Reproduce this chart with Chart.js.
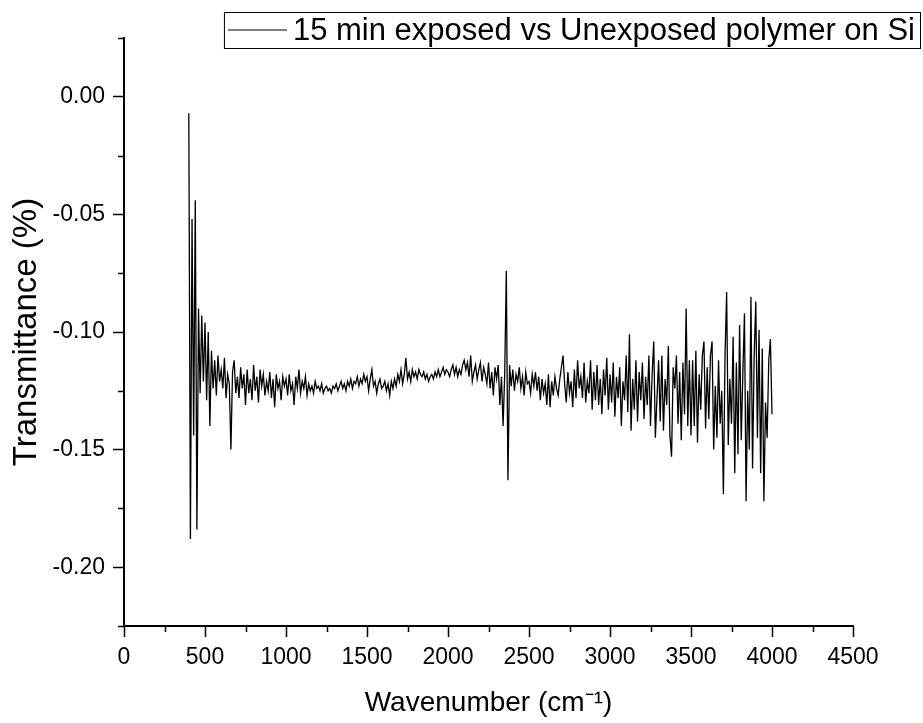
<!DOCTYPE html>
<html>
<head>
<meta charset="utf-8">
<script src="https://cdn.jsdelivr.net/npm/chart.js@4.4.1/dist/chart.umd.min.js"></script>
<style>
  body { margin: 0; background: #fff; }
  canvas { display: block; }
</style>
</head>
<body>
<canvas id="ftirChart" width="923" height="723"></canvas>
<script>
// spectrum sampled every 10 cm-1 from 400 to 4000
const waveStart = 400;
const waveStep = 10;
const seriesLabel = '15 min exposed vs Unexposed polymer on Si';

const transmittance = [
    // 400 - 490
    -0.007, -0.188, -0.052, -0.144, -0.044, -0.184, -0.090, -0.126, -0.093, -0.121,
    // 500
    -0.096, -0.129, -0.100, -0.140, -0.108, -0.124, -0.112, -0.127, -0.110, -0.121,
    // 600
    -0.116, -0.124, -0.111, -0.128, -0.118, -0.122, -0.150, -0.117, -0.112, -0.126,
    // 700
    -0.119, -0.128, -0.115, -0.124, -0.118, -0.131, -0.116, -0.126, -0.120, -0.129,
    // 800
    -0.114, -0.125, -0.119, -0.130, -0.116, -0.123, -0.118, -0.127, -0.121, -0.125,
    // 900
    -0.117, -0.128, -0.120, -0.132, -0.118, -0.124, -0.121, -0.129, -0.119, -0.123,
    // 1000
    -0.120, -0.127, -0.118, -0.125, -0.122, -0.131, -0.119, -0.124, -0.116, -0.126,
    // 1100
    -0.121, -0.124, -0.119, -0.127, -0.122, -0.125, -0.123, -0.126, -0.121, -0.124,
    // 1200
    -0.123, -0.125, -0.122, -0.126, -0.124, -0.123, -0.125, -0.124, -0.126, -0.123,
    // 1300
    -0.124, -0.122, -0.125, -0.123, -0.121, -0.124, -0.122, -0.125, -0.121, -0.123,
    // 1400
    -0.120, -0.124, -0.121, -0.122, -0.119, -0.123, -0.120, -0.122, -0.118, -0.121,
    // 1500
    -0.119, -0.125, -0.120, -0.116, -0.123, -0.121, -0.126, -0.122, -0.120, -0.124,
    // 1600
    -0.123, -0.121, -0.125, -0.122, -0.127, -0.121, -0.124, -0.120, -0.123, -0.118,
    // 1700
    -0.121, -0.116, -0.122, -0.118, -0.111, -0.120, -0.117, -0.121, -0.116, -0.119,
    // 1800
    -0.117, -0.120, -0.116, -0.118, -0.119, -0.117, -0.120, -0.118, -0.121, -0.119,
    // 1900
    -0.118, -0.120, -0.117, -0.119, -0.116, -0.119, -0.117, -0.115, -0.118, -0.116,
    // 2000
    -0.117, -0.119, -0.116, -0.114, -0.118, -0.115, -0.119, -0.116, -0.118, -0.114,
    // 2100
    -0.112, -0.116, -0.113, -0.119, -0.110, -0.121, -0.117, -0.114, -0.120, -0.116,
    // 2200
    -0.113, -0.121, -0.115, -0.118, -0.122, -0.113, -0.124, -0.117, -0.127, -0.115,
    // 2300
    -0.120, -0.114, -0.131, -0.119, -0.140, -0.118, -0.074, -0.163, -0.114, -0.123,
    // 2400
    -0.116, -0.125, -0.118, -0.121, -0.115, -0.124, -0.119, -0.127, -0.117, -0.122,
    // 2500
    -0.121, -0.126, -0.118, -0.123, -0.117, -0.125, -0.119, -0.129, -0.120, -0.126,
    // 2600
    -0.122, -0.131, -0.118, -0.132, -0.121, -0.127, -0.119, -0.124, -0.127, -0.120,
    // 2700
    -0.115, -0.110, -0.122, -0.130, -0.117, -0.126, -0.121, -0.132, -0.116, -0.128,
    // 2800
    -0.112, -0.124, -0.119, -0.128, -0.113, -0.130, -0.121, -0.126, -0.112, -0.133,
    // 2900
    -0.117, -0.129, -0.114, -0.131, -0.120, -0.135, -0.116, -0.127, -0.111, -0.133,
    // 3000
    -0.118, -0.130, -0.113, -0.136, -0.119, -0.128, -0.115, -0.140, -0.121, -0.129,
    // 3100
    -0.110, -0.134, -0.101, -0.142, -0.120, -0.133, -0.112, -0.138, -0.117, -0.129,
    // 3200
    -0.113, -0.137, -0.119, -0.131, -0.110, -0.140, -0.118, -0.104, -0.145, -0.128,
    // 3300
    -0.112, -0.138, -0.110, -0.142, -0.120, -0.131, -0.106, -0.144, -0.153, -0.115,
    // 3400
    -0.124, -0.110, -0.139, -0.117, -0.146, -0.113, -0.135, -0.090, -0.140, -0.112,
    // 3500
    -0.144, -0.112, -0.140, -0.108, -0.147, -0.118, -0.133, -0.110, -0.104, -0.141,
    // 3600
    -0.115, -0.137, -0.110, -0.104, -0.150, -0.123, -0.145, -0.112, -0.139, -0.125,
    // 3700
    -0.169, -0.110, -0.083, -0.148, -0.120, -0.139, -0.102, -0.160, -0.113, -0.152,
    // 3800
    -0.097, -0.146, -0.118, -0.092, -0.172, -0.125, -0.150, -0.085, -0.158, -0.110,
    // 3900
    -0.087, -0.145, -0.099, -0.160, -0.107, -0.172, -0.130, -0.145, -0.112, -0.103,
    // 4000
    -0.135
];

const xMajorTicks = [0, 500, 1000, 1500, 2000, 2500, 3000, 3500, 4000, 4500];
const xMinorTicks = [250, 750, 1250, 1750, 2250, 2750, 3250, 3750, 4250];
const yMajorTicks = [-0.20, -0.15, -0.10, -0.05, 0.00];
const yMinorTicks = [-0.225, -0.175, -0.125, -0.075, -0.025, 0.025];

const spectrumPoints = transmittance.map((t, i) => ({x: waveStart + i * waveStep, y: t}));

const fontFamily = '"Liberation Sans", Arial, sans-serif';
Chart.defaults.font.family = fontFamily;
Chart.defaults.color = '#000';

// minor ticks (Chart.js only does one tick length per axis)
const minorTicks = {
    id: 'minorTicks',
    afterDraw(chart) {
        const {ctx, scales: {x, y}} = chart;
        ctx.save();
        ctx.strokeStyle = '#000';
        ctx.lineWidth = 1.5;
        ctx.beginPath();
        xMinorTicks.forEach(v => {
            const px = Math.round(x.getPixelForValue(v)) + 0.5;
            ctx.moveTo(px, x.top);
            ctx.lineTo(px, x.top + 6);
        });
        yMinorTicks.forEach(v => {
            const py = Math.round(y.getPixelForValue(v)) + 0.5;
            ctx.moveTo(y.right, py);
            ctx.lineTo(y.right - 6, py);
        });
        ctx.stroke();
        ctx.restore();
    }
};

// boxed legend in the top right corner, like Origin
const boxedLegend = {
    id: 'boxedLegend',
    afterDraw(chart) {
        const ctx = chart.ctx;
        const label = chart.data.datasets[0].label;
        ctx.save();
        ctx.font = '31px ' + fontFamily;
        const textW = ctx.measureText(label).width;
        const right = 920, top = 12, h = 36;
        const left = right - 5 - textW - 6 - 59 - 4;
        ctx.fillStyle = '#fff';
        ctx.fillRect(left, top, right - left, h);
        ctx.strokeStyle = '#000';
        ctx.lineWidth = 1;
        ctx.strokeRect(left + 0.5, top + 0.5, right - left, h);
        ctx.beginPath();
        ctx.moveTo(left + 4, top + h / 2);
        ctx.lineTo(left + 63, top + h / 2);
        ctx.stroke();
        ctx.fillStyle = '#000';
        ctx.textBaseline = 'middle';
        ctx.fillText(label, left + 69, top + h / 2 + 1);
        ctx.restore();
    }
};

const ctx = document.getElementById('ftirChart').getContext('2d');
new Chart(ctx, {
    type: 'line',
    data: {
        datasets: [{
            label: seriesLabel,
            data: spectrumPoints,
            borderColor: '#000',
            borderWidth: 1.3,
            pointRadius: 0,
            tension: 0,
            fill: false
        }]
    },
    options: {
        responsive: false,
        animation: false,
        devicePixelRatio: 1,
        layout: {padding: {left: 7, top: 38, right: 70, bottom: 0}},
        plugins: {
            legend: {display: false},
            tooltip: {enabled: false}
        },
        scales: {
            x: {
                type: 'linear',
                position: 'bottom',
                min: 0,
                max: 4500,
                afterBuildTicks: scale => { scale.ticks = xMajorTicks.map(v => ({value: v})); },
                afterFit: scale => { scale.height = 97; },
                grid: {drawOnChartArea: false, tickLength: 11, tickColor: '#000', tickWidth: 1.5},
                border: {display: true, color: '#000', width: 2},
                ticks: {padding: 7, maxRotation: 0, font: {size: 23}, callback: v => String(v)},
                title: {
                    display: true,
                    text: 'Wavenumber (cm\u207B\u00B9)',
                    font: {size: 28},
                    padding: {top: 0, bottom: 3}
                }
            },
            y: {
                type: 'linear',
                min: -0.225,
                max: 0.025,
                afterBuildTicks: scale => { scale.ticks = yMajorTicks.map(v => ({value: v})); },
                afterFit: scale => { scale.width = 117; },
                grid: {drawOnChartArea: false, tickLength: 11, tickColor: '#000', tickWidth: 1.5},
                border: {display: true, color: '#000', width: 2},
                ticks: {padding: 8, font: {size: 23}, callback: v => v.toFixed(2)},
                title: {
                    display: true,
                    text: 'Transmittance (%)',
                    font: {size: 33},
                    padding: {top: 0, bottom: 0}
                }
            }
        }
    },
    plugins: [minorTicks, boxedLegend]
});
</script>
</body>
</html>
